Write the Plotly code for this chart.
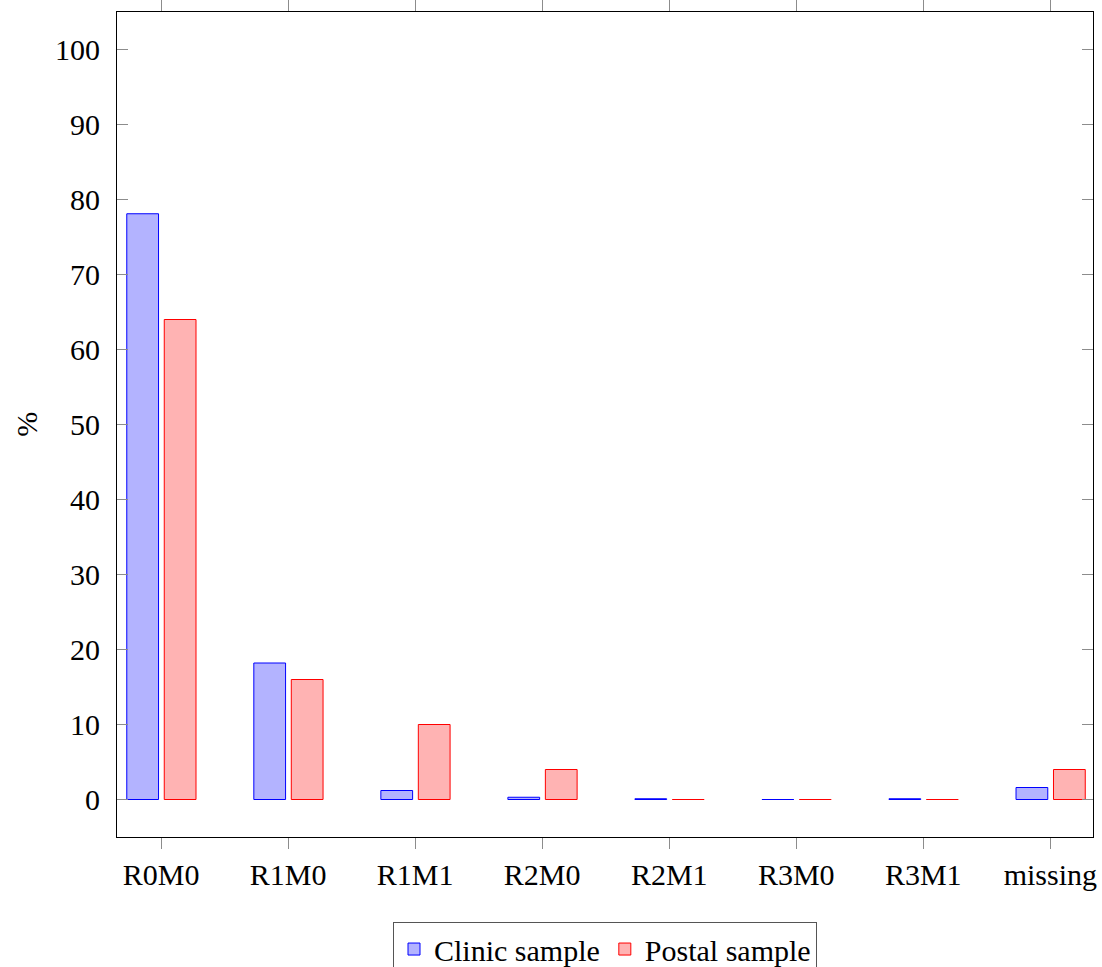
import plotly.graph_objects as go

categories = ["R0M0", "R1M0", "R1M1", "R2M0", "R2M1", "R3M0", "R3M1", "missing"]
clinic = [78.1, 18.2, 1.2, 0.3, 0.1, 0.0, 0.1, 1.6]
postal = [64.0, 16.0, 10.0, 4.0, 0.0, 0.0, 0.0, 4.0]
y_ticks = list(range(0, 101, 10))

FONT = "Liberation Serif"
x_idx = list(range(len(categories)))

fig = go.Figure()
fig.add_trace(go.Bar(
    x=x_idx, y=clinic, name="Clinic sample",
    width=0.25, offset=-0.27,
    marker=dict(color="rgb(179,179,255)", line=dict(color="rgb(0,0,255)", width=1)),
))
fig.add_trace(go.Bar(
    x=x_idx, y=postal, name="Postal sample",
    width=0.25, offset=0.025,
    marker=dict(color="rgb(255,179,179)", line=dict(color="rgb(255,0,0)", width=1)),
))

fig.update_layout(
    width=1102, height=967,
    margin=dict(l=117, r=9, t=12, b=130),
    plot_bgcolor="white", paper_bgcolor="white",
    font=dict(family=FONT, size=30, color="black"),
    showlegend=True,
    legend=dict(
        orientation="h", x=0.5, xanchor="center",
        yref="container", y=0.0465, yanchor="top",
        bordercolor="#555555", borderwidth=1,
        font=dict(family=FONT, size=30),
        itemwidth=30, tracegroupgap=0,
    ),
    xaxis=dict(
        range=[-0.347, 7.336], automargin=False,
        tickmode="array", tickvals=x_idx, ticktext=categories,
        showgrid=False, zeroline=False,
        showline=True, linecolor="black", linewidth=1, mirror="allticks",
        ticks="outside", ticklen=11, tickcolor="#8c8c8c", tickwidth=1,
        tickfont=dict(family=FONT, size=30),
    ),
    yaxis=dict(
        range=[-5, 105], automargin=False,
        tickmode="array", tickvals=y_ticks,
        showgrid=False, zeroline=False,
        showline=True, linecolor="black", linewidth=1, mirror="allticks",
        ticks="inside", ticklen=11, tickcolor="#8c8c8c", tickwidth=1,
        tickfont=dict(family=FONT, size=30),
        ticklabelstandoff=10,
    ),
    annotations=[dict(
        text="%", xref="paper", yref="paper", x=-0.093, y=0.5,
        xanchor="center", yanchor="middle", showarrow=False, textangle=-90,
        font=dict(family=FONT, size=30),
    )],
)

fig.write_html(
    "out.html",
    config={"displayModeBar": False},
    post_script="document.body.style.margin='0';document.body.style.overflow='hidden';",
)
